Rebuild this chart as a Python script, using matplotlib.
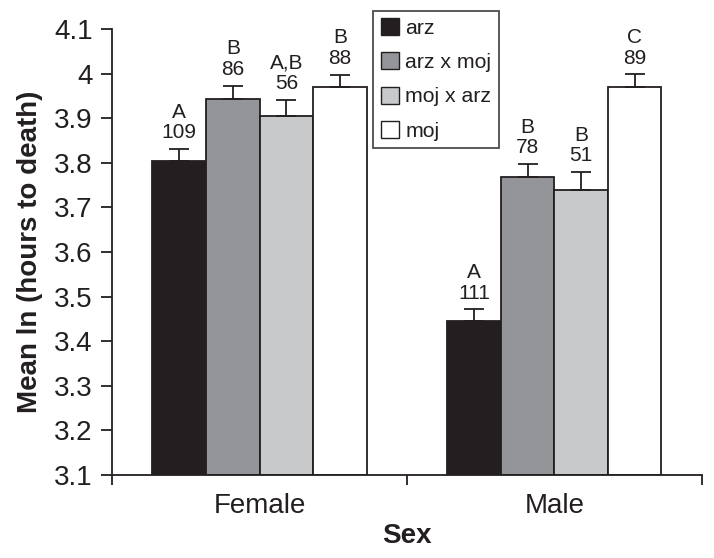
import matplotlib
matplotlib.use("Agg")
import matplotlib.pyplot as plt
import numpy as np
from matplotlib.patches import Patch

plt.rcParams['font.family'] = ['Liberation Sans', 'DejaVu Sans']

categories = ["Female", "Male"]
series = ["arz", "arz x moj", "moj x arz", "moj"]
means = {
    "arz": [3.805, 3.445],
    "arz x moj": [3.943, 3.767],
    "moj x arz": [3.904, 3.740],
    "moj": [3.969, 3.969],
}
errors = {
    "arz": [0.025, 0.026],
    "arz x moj": [0.030, 0.030],
    "moj x arz": [0.037, 0.039],
    "moj": [0.028, 0.029],
}
letters = {
    "arz": ["A", "A"],
    "arz x moj": ["B", "B"],
    "moj x arz": ["A,B", "B"],
    "moj": ["B", "C"],
}
counts = {
    "arz": [109, 111],
    "arz x moj": [86, 78],
    "moj x arz": [56, 51],
    "moj": [88, 89],
}
colors = ["#231f20", "#939598", "#c8c9cb", "#ffffff"]
edge = "#231f20"

fig = plt.figure(figsize=(7.14, 5.58), dpi=100)
ax = fig.add_axes([0.157, 0.149, 0.826, 0.799])

x = np.arange(len(categories))
w = 0.1815
for i, s in enumerate(series):
    pos = x + (i - 1.5) * w
    ax.bar(pos, np.array(means[s]) - 3.1, bottom=3.1, width=w, color=colors[i],
           edgecolor=edge, linewidth=1.3, zorder=2)
    ax.errorbar(pos, means[s], yerr=[np.zeros(2), errors[s]], fmt='none',
                ecolor=edge, elinewidth=1.3, capsize=7, capthick=1.3, zorder=3)
    for j in range(len(categories)):
        top = means[s][j] + errors[s][j]
        ax.annotate(f"{letters[s][j]}\n{counts[s][j]}", (pos[j], top),
                    xytext=(0, 5), textcoords='offset points', ha='center',
                    va='bottom', fontsize=15, linespacing=1.1, color=edge)

ax.set_ylim(3.1, 4.1)
ax.set_xlim(-0.5, 1.5)
ax.set_yticks(np.arange(3.1, 4.101, 0.1))
ax.set_yticklabels(["3.1", "3.2", "3.3", "3.4", "3.5", "3.6", "3.7", "3.8", "3.9", "4", "4.1"])
ax.set_xticks(x)
ax.set_xticklabels(categories)
ax.set_xticks([-0.5, 0.5, 1.5], minor=True)
ax.tick_params(axis='x', which='major', length=0, labelsize=20, pad=13, labelcolor=edge)
ax.tick_params(axis='x', which='minor', length=7, width=1.3, color=edge)
ax.tick_params(axis='y', length=8, width=1.3, labelsize=20, color=edge, pad=6, labelcolor=edge)
for sp in ['top', 'right']:
    ax.spines[sp].set_visible(False)
for sp in ['left', 'bottom']:
    ax.spines[sp].set_linewidth(1.3)
    ax.spines[sp].set_color(edge)

ax.set_xlabel("Sex", fontsize=20, fontweight='bold', labelpad=3, color=edge)
ax.set_ylabel("Mean ln (hours to death)", fontsize=20, fontweight='bold', labelpad=8, color=edge)

handles = [Patch(facecolor=colors[i], edgecolor=edge, linewidth=1.0, label=s)
           for i, s in enumerate(series)]
leg = fig.legend(handles=handles, loc='upper left', bbox_to_anchor=(0.523, 0.981),
                 fontsize=15.3, frameon=True, fancybox=False, edgecolor=edge,
                 handlelength=0.85, handleheight=0.85, handletextpad=0.3,
                 labelspacing=0.68, borderpad=0.35, borderaxespad=0)
leg.get_frame().set_linewidth(1.3)
for t in leg.get_texts():
    t.set_color(edge)

fig.savefig("out.png", dpi=100)
